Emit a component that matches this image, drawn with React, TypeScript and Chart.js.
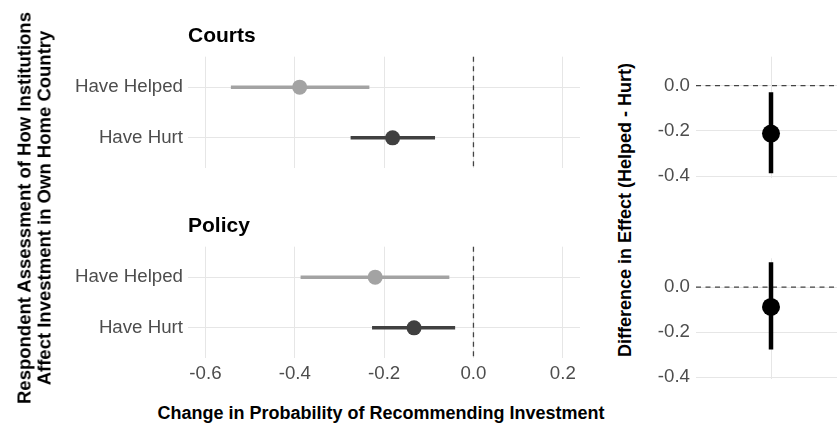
import React, { useEffect, useRef } from "react";
import { Chart, registerables } from "chart.js";

Chart.register(...registerables);

// ---------- data ----------
const CATEGORIES = ["Have Helped", "Have Hurt"];
const CATEGORY_COLORS = ["#a3a3a3", "#404040"];

const PANEL_TITLES = ["Courts", "Policy"];
const COURTS_EST = [-0.389, -0.181];
const COURTS_LO = [-0.543, -0.275];
const COURTS_HI = [-0.233, -0.086];

const POLICY_EST = [-0.22, -0.133];
const POLICY_LO = [-0.387, -0.227];
const POLICY_HI = [-0.054, -0.041];

const DIFF_EST = [-0.212, -0.088];
const DIFF_LO = [-0.388, -0.278];
const DIFF_HI = [-0.029, 0.11];

const X_TICKS = [-0.6, -0.4, -0.2, 0.0, 0.2];
const DIFF_TICKS = [-0.4, -0.2, 0.0];

const X_TITLE = "Change in Probability of Recommending Investment";
const Y_TITLE_LINES = [
  "Respondent Assessment of How Institutions",
  "Affect Investment in Own Home Country",
];
const DIFF_TITLE = "Difference in Effect (Helped - Hurt)";

// ---------- styling ----------
const FONT = "'Liberation Sans', Arial, Helvetica, sans-serif";
const GRID = "#e6e6e6";
const TICK_COLOR = "#4d4d4d";
const TICK_SIZE = 18.7;

Chart.defaults.font.family = FONT;

const zeroLine = (axis: "x" | "y") => ({
  id: "zeroLine",
  beforeDatasetsDraw(chart: any) {
    const { ctx, chartArea, scales } = chart;
    const s = scales[axis];
    const p = s.getPixelForValue(0);
    ctx.save();
    ctx.strokeStyle = "#444444";
    ctx.lineWidth = 1.3;
    ctx.setLineDash([5, 4.5]);
    ctx.beginPath();
    if (axis === "x") {
      ctx.moveTo(p, chartArea.top);
      ctx.lineTo(p, chartArea.bottom);
    } else {
      ctx.moveTo(chartArea.left, p);
      ctx.lineTo(chartArea.right, p);
    }
    ctx.stroke();
    ctx.restore();
  },
});

const yOf = (i: number) => CATEGORIES.length - i;

function leftConfig(
  title: string,
  est: number[],
  lo: number[],
  hi: number[],
  showX: boolean,
  xAxisHeight: number
): any {
  const datasets: any[] = [
    {
      type: "scatter",
      data: est.map((v, i) => ({ x: v, y: yOf(i) })),
      pointBackgroundColor: CATEGORY_COLORS,
      pointBorderColor: CATEGORY_COLORS,
      pointBorderWidth: 0,
      pointRadius: 7.5,
      order: 0,
    },
    ...CATEGORIES.map((c, i) => ({
      type: "line",
      label: c,
      data: [
        { x: lo[i], y: yOf(i) },
        { x: hi[i], y: yOf(i) },
      ],
      borderColor: CATEGORY_COLORS[i],
      borderWidth: 3.5,
      pointRadius: 0,
      fill: false,
      order: 1,
    })),
  ];
  return {
    type: "scatter",
    data: { datasets },
    plugins: [zeroLine("x")],
    options: {
      responsive: false,
      animation: false,
      devicePixelRatio: 1,
      events: [],
      layout: { autoPadding: false, padding: { top: 23.5, left: 0, right: 20, bottom: 0 } },
      plugins: {
        legend: { display: false },
        tooltip: { enabled: false },
        title: {
          display: true,
          text: title,
          align: "start",
          fullSize: false,
          color: "#000000",
          font: { size: 21, weight: "bold", family: FONT, lineHeight: 1.2 },
          padding: { top: 0, bottom: 8 },
        },
      },
      scales: {
        x: {
          type: "linear",
          min: -0.639,
          max: 0.2385,
          afterBuildTicks: (s: any) => {
            s.ticks = X_TICKS.map((v) => ({ value: v }));
          },
          afterFit: (s: any) => {
            s.height = xAxisHeight;
          },
          ticks: {
            display: showX,
            color: TICK_COLOR,
            font: { size: TICK_SIZE },
            padding: 4,
            maxRotation: 0,
            autoSkip: false,
            callback: (v: any) => Number(v).toFixed(1),
          },
          grid: { color: GRID, lineWidth: 1, drawTicks: false },
          border: { display: false },
        },
        y: {
          type: "linear",
          min: 0.4,
          max: 2.6,
          afterBuildTicks: (s: any) => {
            s.ticks = CATEGORIES.map((c, i) => ({ value: yOf(i) }));
          },
          afterFit: (s: any) => {
            s.width = 188;
          },
          ticks: {
            color: TICK_COLOR,
            font: { size: TICK_SIZE },
            padding: 5,
            autoSkip: false,
            callback: (v: any) => CATEGORIES[CATEGORIES.length - Math.round(Number(v))],
          },
          grid: { color: GRID, lineWidth: 1, drawTicks: false },
          border: { display: false },
        },
      },
    },
  };
}

function rightConfig(i: number, padTop: number, xAxisHeight: number): any {
  return {
    type: "scatter",
    data: {
      datasets: [
        {
          type: "scatter",
          data: [{ x: 0, y: DIFF_EST[i] }],
          pointBackgroundColor: "#000000",
          pointBorderColor: "#000000",
          pointBorderWidth: 0,
          pointRadius: 9,
          order: 0,
        },
        {
          type: "line",
          data: [
            { x: 0, y: DIFF_LO[i] },
            { x: 0, y: DIFF_HI[i] },
          ],
          borderColor: "#000000",
          borderWidth: 4.5,
          pointRadius: 0,
          fill: false,
          order: 1,
        },
      ],
    },
    plugins: [zeroLine("y")],
    options: {
      responsive: false,
      animation: false,
      devicePixelRatio: 1,
      events: [],
      layout: { autoPadding: false, padding: { top: padTop, left: 0, right: 0, bottom: 0 } },
      plugins: { legend: { display: false }, tooltip: { enabled: false } },
      scales: {
        x: {
          type: "linear",
          min: -0.6,
          max: 0.6,
          afterBuildTicks: (s: any) => {
            s.ticks = [{ value: 0 }];
          },
          afterFit: (s: any) => {
            s.height = xAxisHeight;
          },
          ticks: { display: false },
          grid: { color: GRID, lineWidth: 1, drawTicks: false },
          border: { display: false },
        },
        y: {
          type: "linear",
          min: -0.41,
          max: 0.128,
          afterBuildTicks: (s: any) => {
            s.ticks = DIFF_TICKS.map((v) => ({ value: v }));
          },
          afterFit: (s: any) => {
            s.width = 56;
          },
          ticks: {
            color: TICK_COLOR,
            font: { size: TICK_SIZE },
            padding: 6,
            autoSkip: false,
            callback: (v: any) => Number(v).toFixed(1),
          },
          grid: { color: GRID, lineWidth: 1, drawTicks: false },
          border: { display: false },
        },
      },
    },
  };
}

function ChartCanvas(props: { config: () => any; left: number; top: number; width: number; height: number }) {
  const ref = useRef<HTMLCanvasElement | null>(null);
  useEffect(() => {
    const chart = new Chart(ref.current as HTMLCanvasElement, props.config());
    return () => chart.destroy();
  }, []);
  return (
    <canvas
      ref={ref}
      width={props.width}
      height={props.height}
      style={{
        position: "absolute",
        left: props.left,
        top: props.top,
        width: props.width,
        height: props.height,
      }}
    />
  );
}

export default function App() {
  return (
    <div
      style={{
        position: "absolute",
        left: 0,
        top: 0,
        width: 837,
        height: 427,
        overflow: "hidden",
        background: "#ffffff",
        fontFamily: FONT,
      }}
    >
      <ChartCanvas
        left={0}
        top={0}
        width={600}
        height={190}
        config={() => leftConfig(PANEL_TITLES[0], COURTS_EST, COURTS_LO, COURTS_HI, false, 21.7)}
      />
      <ChartCanvas
        left={0}
        top={190}
        width={600}
        height={210}
        config={() => leftConfig(PANEL_TITLES[1], POLICY_EST, POLICY_LO, POLICY_HI, true, 41.7)}
      />
      <ChartCanvas left={640} top={0} width={206} height={200} config={() => rightConfig(0, 56.7, 21.7)} />
      <ChartCanvas left={640} top={200} width={206} height={227} config={() => rightConfig(1, 58.3, 47.7)} />

      <div
        style={{
          position: "absolute",
          left: 33.5,
          top: 208,
          transform: "translate(-50%, -50%) rotate(-90deg)",
          whiteSpace: "nowrap",
          textAlign: "center",
          fontWeight: "bold",
          fontSize: 18.5,
          lineHeight: "19.5px",
          color: "#000000",
        }}
      >
        {Y_TITLE_LINES.map((l) => (
          <div key={l}>{l}</div>
        ))}
      </div>
      <div
        style={{
          position: "absolute",
          left: 625,
          top: 210,
          transform: "translate(-50%, -50%) rotate(-90deg)",
          whiteSpace: "nowrap",
          fontWeight: "bold",
          fontSize: 18,
          lineHeight: "18px",
          color: "#000000",
        }}
      >
        {DIFF_TITLE}
      </div>
      <div
        style={{
          position: "absolute",
          left: 381,
          top: 413,
          transform: "translate(-50%, -50%)",
          whiteSpace: "nowrap",
          fontWeight: "bold",
          fontSize: 18,
          lineHeight: "18px",
          color: "#000000",
        }}
      >
        {X_TITLE}
      </div>
    </div>
  );
}
